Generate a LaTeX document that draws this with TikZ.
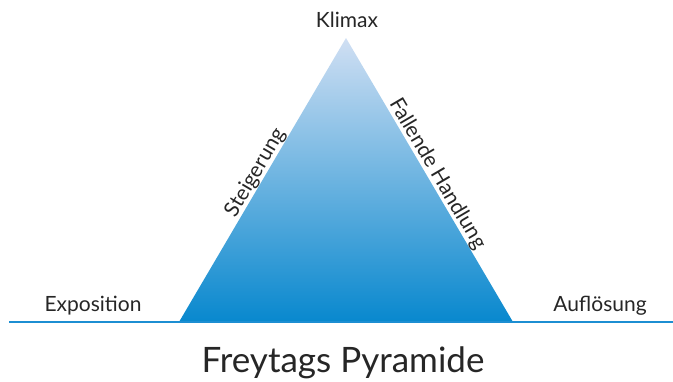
\documentclass[tikz,border=0pt]{standalone}
\usepackage{fontspec}
\setmainfont{Lato}
\usepackage{xcolor}
\usetikzlibrary{positioning, calc}
\definecolor{pyrtop}{RGB}{208,223,243}
\definecolor{pyrbottom}{RGB}{8,136,206}
\definecolor{baseblue}{RGB}{28,142,210}
\tikzset{
	phase/.style={font=\fontsize{21}{24}\selectfont, text=black!85},
	edgelabel/.style={phase, sloped, inner sep=0pt},
	title/.style={font=\fontsize{35}{40}\selectfont, text=black!85}
}

\begin{document}
\begin{tikzpicture}[x=1pt, y=-1pt]
	\useasboundingbox (0,0) rectangle (673,381);
	
	% Corners of the pyramid and ends of the base line
	\coordinate (apex) at (346,38);
	\coordinate (left) at (179,322);
	\coordinate (right) at (513,322);
	\coordinate (lineL) at (9,322);
	\coordinate (lineR) at (673,322);
	
	% Pyramid with blue gradient
	\shade[top color=pyrtop, bottom color=pyrbottom] (left) -- (apex) -- (right) -- cycle;
	
	% Base line
	\draw[baseblue, line width=2.5pt] (lineL) -- (lineR);
	
	% Phase labels
	\node[phase, anchor=base] (klimax) at (347,27) {Klimax};
	\node[phase, anchor=base] (exposition) at (93,311) {Exposition};
	\node[phase, anchor=base] (aufloesung) at (600,311) {Auflösung};
	\path (left) -- node[edgelabel, above, pos=0.508] (steigerung) {Steigerung} (apex);
	\path (apex) -- node[edgelabel, above, pos=0.496] (fallend) {Fallende Handlung} (right);
	
	% Title
	\node[title, anchor=base] (titel) at (343,372) {Freytags Pyramide};
\end{tikzpicture}
\end{document}
